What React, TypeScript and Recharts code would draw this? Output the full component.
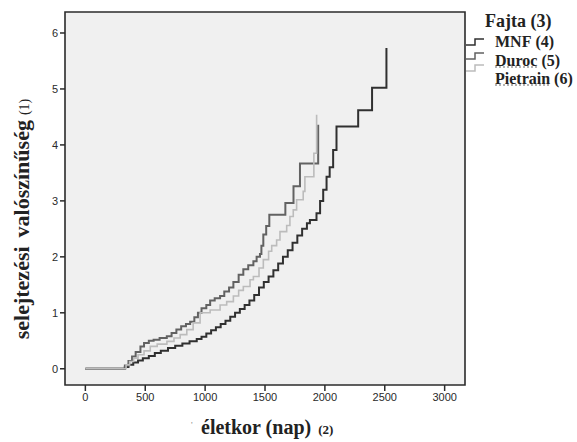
import React from 'react';
import { LineChart, Line, XAxis, YAxis, ReferenceArea } from 'recharts';

// cumulative culling hazard by breed (day, value)
const mnfDays = [0, 310, 330, 360, 400, 440, 480, 530, 580, 630, 690, 750, 810, 870, 930, 970, 1010, 1050, 1090, 1130, 1170, 1210, 1250, 1290, 1330, 1370, 1410, 1450, 1490, 1530, 1570, 1610, 1650, 1690, 1730, 1770, 1810, 1850, 1875, 1930, 1960, 1986, 2014, 2040, 2069, 2097, 2278, 2394, 2514];
const mnfValues = [0, 0, 0.03, 0.07, 0.11, 0.15, 0.19, 0.23, 0.28, 0.32, 0.37, 0.41, 0.45, 0.49, 0.53, 0.57, 0.63, 0.69, 0.74, 0.8, 0.86, 0.93, 1.0, 1.07, 1.14, 1.22, 1.32, 1.45, 1.55, 1.65, 1.76, 1.88, 2.0, 2.12, 2.25, 2.38, 2.5, 2.6, 2.66, 2.78, 3.0, 3.2, 3.43, 3.6, 3.91, 4.33, 4.62, 5.02, 5.73];

const durocDays = [0, 306, 330, 360, 390, 420, 460, 490, 530, 570, 620, 680, 720, 760, 800, 840, 875, 910, 940, 970, 1010, 1042, 1080, 1125, 1160, 1200, 1236, 1280, 1319, 1360, 1403, 1430, 1458, 1470, 1486, 1510, 1536, 1670, 1738, 1792, 1944];
const durocValues = [0, 0, 0.06, 0.14, 0.22, 0.3, 0.4, 0.46, 0.5, 0.52, 0.55, 0.58, 0.64, 0.7, 0.76, 0.8, 0.84, 0.92, 1.0, 1.08, 1.14, 1.22, 1.26, 1.3, 1.38, 1.45, 1.55, 1.68, 1.78, 1.85, 1.92, 2.0, 2.05, 2.2, 2.4, 2.55, 2.75, 2.96, 3.26, 3.67, 4.36];

const pietrainDays = [0, 306, 340, 370, 403, 440, 490, 542, 600, 681, 740, 792, 847, 900, 958, 1042, 1125, 1180, 1236, 1280, 1319, 1375, 1403, 1450, 1486, 1530, 1556, 1597, 1625, 1681, 1708, 1736, 1764, 1819, 1833, 1908, 1931];
const pietrainValues = [0, 0, 0.07, 0.13, 0.19, 0.25, 0.32, 0.4, 0.44, 0.49, 0.55, 0.61, 0.7, 0.82, 1.0, 1.05, 1.14, 1.2, 1.3, 1.4, 1.47, 1.59, 1.65, 1.8, 1.95, 2.1, 2.2, 2.3, 2.45, 2.56, 2.72, 2.84, 3.02, 3.17, 3.43, 3.85, 4.54];

const xTicks = [0, 500, 1000, 1500, 2000, 2500, 3000];
const yTicks = [0, 1, 2, 3, 4, 5, 6];
const X_MIN = -170;
const X_MAX = 3170;
const Y_MIN = -0.29;
const Y_MAX = 6.375;

const toPoints = (days: number[], values: number[]) => days.map((d, i) => ({ d, v: values[i] }));

const series = [
  { name: 'MNF', note: '(4)', color: '#303030', width: 2, underline: false, data: toPoints(mnfDays, mnfValues) },
  { name: 'Duroc', note: '(5)', color: '#626262', width: 2, underline: true, data: toPoints(durocDays, durocValues) },
  { name: 'Pietrain', note: '(6)', color: '#bcbcbc', width: 1.6, underline: true, data: toPoints(pietrainDays, pietrainValues) },
];

const serif = '"Liberation Serif", "Times New Roman", serif';
const tickStyle = { fontFamily: '"Liberation Sans", Arial, sans-serif', fontSize: 11, fill: '#2a2a2a' };

// legend is a bit crooked in the source: symbols sit tighter than the text rows
const iconTops = [37, 51, 63];

const LegendBox = () => (
  <div
    style={{
      position: 'absolute',
      left: 465,
      top: 10,
      width: 112,
      fontFamily: serif,
      fontWeight: 'bold',
      color: '#222',
    }}
  >
    <div style={{ position: 'absolute', left: 20, top: 0, fontSize: 18, lineHeight: '22px', whiteSpace: 'nowrap' }}>
      Fajta (3)
    </div>
    {series.map((s, i) => (
      <React.Fragment key={s.name}>
        <svg width={22} height={10} style={{ position: 'absolute', left: 0, top: iconTops[i] - 10 }}>
          <path d="M1 8 H10 V2 H19" fill="none" stroke={s.color} strokeWidth={1.5} />
        </svg>
        <div
          style={{
            position: 'absolute',
            left: 30,
            top: 22 + i * 18.5,
            fontSize: 16,
            lineHeight: '20px',
            whiteSpace: 'nowrap',
          }}
        >
          <span style={{ textDecoration: s.underline ? 'underline dotted #999' : 'none', marginRight: 4 }}>
            {s.name}
          </span>
          <span>{s.note}</span>
        </div>
      </React.Fragment>
    ))}
  </div>
);

export default function App() {
  return (
    <div style={{ position: 'absolute', left: 0, top: 0, width: 577, height: 442, background: '#fff' }}>
      <LineChart width={577} height={442} margin={{ top: 12, right: 112, bottom: 27, left: 35 }}>
        <ReferenceArea
          x1={X_MIN}
          x2={X_MAX}
          y1={Y_MIN}
          y2={Y_MAX}
          fill="#f0f0f0"
          fillOpacity={1}
          stroke="#2b2b2b"
          strokeWidth={1.6}
          ifOverflow="visible"
        />
        <XAxis
          dataKey="d"
          type="number"
          domain={[X_MIN, X_MAX]}
          ticks={xTicks}
          allowDataOverflow
          height={30}
          axisLine={false}
          tickLine={{ stroke: '#2b2b2b', strokeWidth: 1.5 }}
          tickSize={6}
          tick={tickStyle}
          label={{
            content: () => (
              <g>
                <text x={191} y={428} fontFamily={serif} fontSize={9} fill="#888">'</text>
                <text x={201} y={434} fontFamily={serif} fontWeight="bold" fontSize={20} fill="#222">
                  életkor (nap)
                  <tspan fontSize={13} dx={7}>(2)</tspan>
                </text>
              </g>
            ),
          }}
        />
        <YAxis
          type="number"
          domain={[Y_MIN, Y_MAX]}
          ticks={yTicks}
          allowDataOverflow
          width={30}
          axisLine={false}
          tickLine={{ stroke: '#2b2b2b', strokeWidth: 1.5 }}
          tickSize={5}
          tick={tickStyle}
          label={{
            content: () => (
              <text
                x={29}
                y={219}
                transform="rotate(-90, 29, 219)"
                textAnchor="middle"
                fontFamily={serif}
                fontWeight="bold"
                fontSize={22}
                fill="#222"
              >
                selejtezési
                <tspan dx={9}>valószínűség</tspan>
                <tspan fontSize={14} fontWeight="normal" dx={5}>(1)</tspan>
              </text>
            ),
          }}
        />
        {series.map((s) => (
          <Line
            key={s.name}
            data={s.data}
            dataKey="v"
            name={s.name}
            type="stepAfter"
            stroke={s.color}
            strokeWidth={s.width}
            dot={false}
            activeDot={false}
            isAnimationActive={false}
          />
        ))}
      </LineChart>
      <LegendBox />
    </div>
  );
}
